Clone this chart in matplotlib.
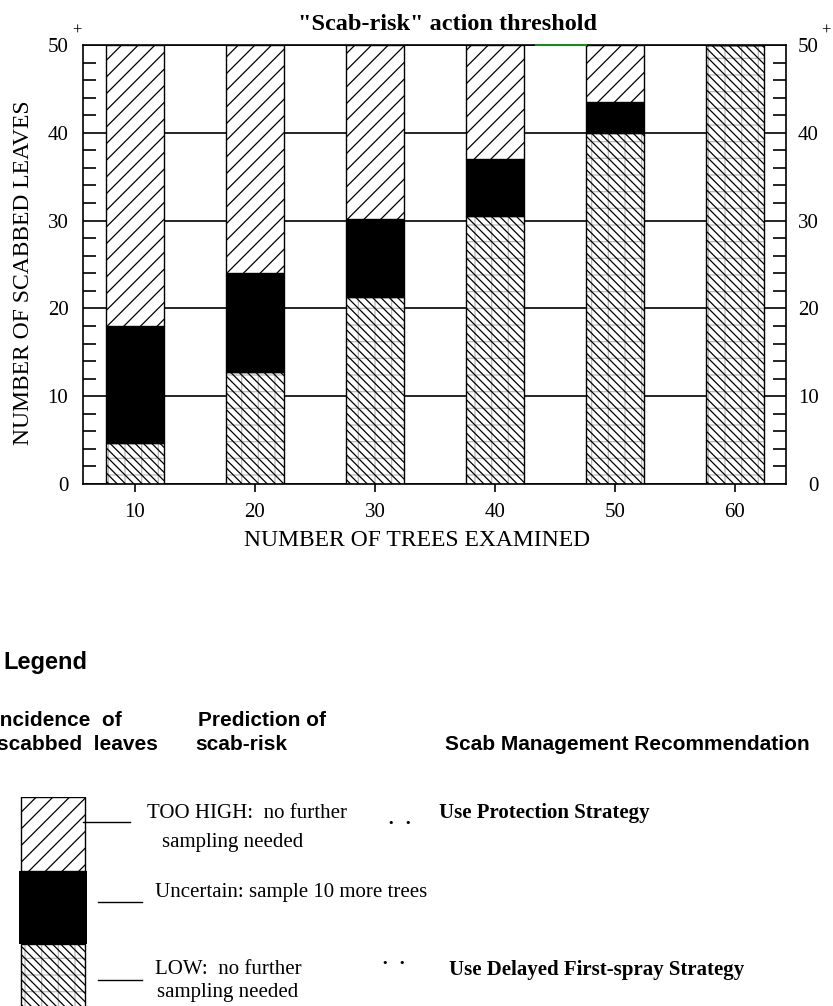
"""Scab-risk sequential sampling chart with its legend block."""

import matplotlib
matplotlib.use("Agg")
import matplotlib.pyplot as plt
from matplotlib.lines import Line2D

W, H = 833, 1006
plt.rcParams["hatch.linewidth"] = 0.9

SERIF = "Liberation Serif"
SANS = "Liberation Sans"

# ── Data ─────────────────────────────────────────────────────────────────────
TREES     = [10, 20, 30, 40, 50, 60]            # number of trees examined
LOW_TOP   = [4.7, 12.7, 21.3, 30.5, 40.0, 50.0]  # upper bound of LOW zone
UNC_TOP   = [18.0, 24.0, 30.2, 37.0, 43.5, 50.0]  # upper bound of uncertain zone
Y_MAX     = 50
Y_TICKS   = [0, 10, 20, 30, 40, 50]
Y_MINOR   = [v for v in range(2, 50, 2) if v % 10]
GREY_MINOR = [4, 14, 24, 38, 48]
BAR_W     = 4.83

TITLE   = '"Scab-risk" action threshold'
XLABEL  = "NUMBER OF TREES EXAMINED"
YLABEL  = "NUMBER OF SCABBED LEAVES"


def fx(px):
    return px / W


def fy(py):
    return 1 - py / H


fig = plt.figure(figsize=(W / 100, H / 100), dpi=100)

# ── Main chart ───────────────────────────────────────────────────────────────
ax = fig.add_axes([fx(83), fy(484), (786 - 83) / W, (484 - 45) / H])

# right-hand labels, right-aligned like the original (made first: twinx
# resets the tick sides of the parent axes)
ax2 = ax.twinx()
ax2.set_ylim(0, Y_MAX)
ax2.set_yticks(Y_TICKS)
ax2.set_yticklabels([str(v) for v in Y_TICKS], family=SERIF, fontsize=15,
                    ha="right")
ax2.tick_params(axis="y", which="major", length=0, pad=23.5)
ax2.yaxis.set_minor_locator(plt.NullLocator())
for s in ax2.spines.values():
    s.set_visible(False)

low = LOW_TOP
unc = [u - l for u, l in zip(UNC_TOP, LOW_TOP)]
high = [Y_MAX - u for u in UNC_TOP]

# LOW: grey grid underlay + dense back-hatch
ax.bar(TREES, low, width=BAR_W, facecolor="white", edgecolor="#b8b8b8",
       hatch="+", linewidth=0, zorder=2)
ax.bar(TREES, low, width=BAR_W, facecolor="none", edgecolor="black",
       hatch="\\\\\\\\", linewidth=1, zorder=3)
# Uncertain: solid black
ax.bar(TREES, unc, bottom=LOW_TOP, width=BAR_W, color="black",
       edgecolor="black", linewidth=1, zorder=3)
# TOO HIGH: forward hatch
ax.bar(TREES, high, bottom=UNC_TOP, width=BAR_W, facecolor="white",
       edgecolor="black", hatch="//", linewidth=1, zorder=3)

ax.set_xlim(5.667, 64.25)
ax.set_ylim(0, Y_MAX)

ax.set_axisbelow(True)
ax.grid(axis="y", color="black", linewidth=1.2)
ax.grid(axis="x", visible=False)
for s in ax.spines.values():
    s.set_linewidth(1.2)

ax.set_xticks(TREES)
ax.set_xticklabels([str(t) for t in TREES], family=SERIF, fontsize=15)
ax.tick_params(axis="x", direction="out", length=5.8, width=1.2, pad=8)

ax.set_yticks(Y_TICKS)
ax.set_yticks(Y_MINOR, minor=True)
ax.set_yticklabels([str(v) for v in Y_TICKS], family=SERIF, fontsize=15)
ax.tick_params(axis="y", which="major", length=0, pad=10.5,
               left=True, right=False, labelleft=True, labelright=False)
ax.tick_params(axis="y", which="minor", direction="in", length=9.4,
               width=1.2, left=True, right=True)
for v, t in zip(Y_MINOR, ax.yaxis.get_minor_ticks()):
    c = "#a0a0a0" if v in GREY_MINOR else "black"
    t.tick1line.set_color(c)
    t.tick2line.set_color(c)

# small green stretch on top border between the 40 and 50 bars
ax.plot([TREES[3] + BAR_W / 2 + 1, TREES[4] - BAR_W / 2], [Y_MAX, Y_MAX],
        color="#1a8a1a", linewidth=1.5, clip_on=False, zorder=6)

fig.text(fx(448), fy(25), TITLE, family=SERIF, fontweight="bold",
         fontsize=17.5, ha="center", va="center")
fig.text(fx(417), fy(540), XLABEL, family=SERIF, fontsize=17,
         ha="center", va="center")
fig.text(fx(24), fy(273), YLABEL, family=SERIF, fontsize=17,
         rotation=90, ha="center", va="center")
fig.text(fx(77), fy(31), "+", family=SERIF, fontsize=12, ha="center", va="center")
fig.text(fx(826), fy(31), "+", family=SERIF, fontsize=12, ha="center", va="center")

# ── Legend block ─────────────────────────────────────────────────────────────
fig.text(fx(3), fy(663), "Legend", family=SANS, fontweight="bold",
         fontsize=17, ha="left", va="center")
fig.text(fx(-6), fy(720), "Incidence  of", family=SANS, fontweight="bold",
         fontsize=15, ha="left", va="center")
fig.text(fx(-3), fy(745), "scabbed  leaves", family=SANS, fontweight="bold",
         fontsize=15, ha="left", va="center")
fig.text(fx(198), fy(720), "Prediction of", family=SANS, fontweight="bold",
         fontsize=15, ha="left", va="center")
fig.text(fx(195), fy(745), "scab-risk", family=SANS, fontweight="bold",
         fontsize=15, ha="left", va="center")
fig.text(fx(445), fy(745), "Scab Management Recommendation", family=SANS,
         fontweight="bold", fontsize=15, ha="left", va="center")

lax = fig.add_axes([fx(19), 0, (87 - 19) / W, (1006 - 797) / H])
lax.bar([0], [1], bottom=[0], width=0.94, facecolor="white", edgecolor="#b8b8b8",
        hatch="+", linewidth=0, zorder=2)
lax.bar([0], [1], bottom=[0], width=0.94, facecolor="none", edgecolor="black",
        hatch="\\\\\\\\", linewidth=1, zorder=3)
lax.bar([0], [1], bottom=[1], width=1.0, color="black", linewidth=0, zorder=3)
lax.bar([0], [1], bottom=[2], width=0.94, facecolor="white", edgecolor="black",
        hatch="//", linewidth=1, zorder=3)
lax.set_xlim(-0.5, 0.5)
lax.set_ylim(0.16, 3.0)
lax.axis("off")

for x0, x1, y in [(83, 130, 822), (98, 142, 902), (98, 142, 980)]:
    fig.add_artist(Line2D([fx(x0), fx(x1)], [fy(y), fy(y)],
                          transform=fig.transFigure, color="black", linewidth=1))

fig.text(fx(147), fy(813), "TOO HIGH:  no further", family=SERIF, fontsize=15,
         ha="left", va="center")
fig.text(fx(162), fy(842), "sampling needed", family=SERIF, fontsize=15,
         ha="left", va="center")
fig.text(fx(155), fy(892), "Uncertain: sample 10 more trees", family=SERIF,
         fontsize=15, ha="left", va="center")
fig.text(fx(155), fy(970), "LOW:  no further", family=SERIF, fontsize=15,
         ha="left", va="center")
fig.text(fx(157), fy(993), "sampling needed", family=SERIF, fontsize=15,
         ha="left", va="center")

fig.text(fx(400), fy(823), "\u2022   \u2022", family="DejaVu Sans", fontsize=8,
         ha="center", va="center")
fig.text(fx(394), fy(963), "\u2022   \u2022", family="DejaVu Sans", fontsize=8,
         ha="center", va="center")

fig.text(fx(439), fy(813), "Use Protection Strategy", family=SERIF,
         fontweight="bold", fontsize=15, ha="left", va="center")
fig.text(fx(449), fy(970), "Use Delayed First-spray Strategy", family=SERIF,
         fontweight="bold", fontsize=15, ha="left", va="center")

fig.savefig("out.png", dpi=100)
